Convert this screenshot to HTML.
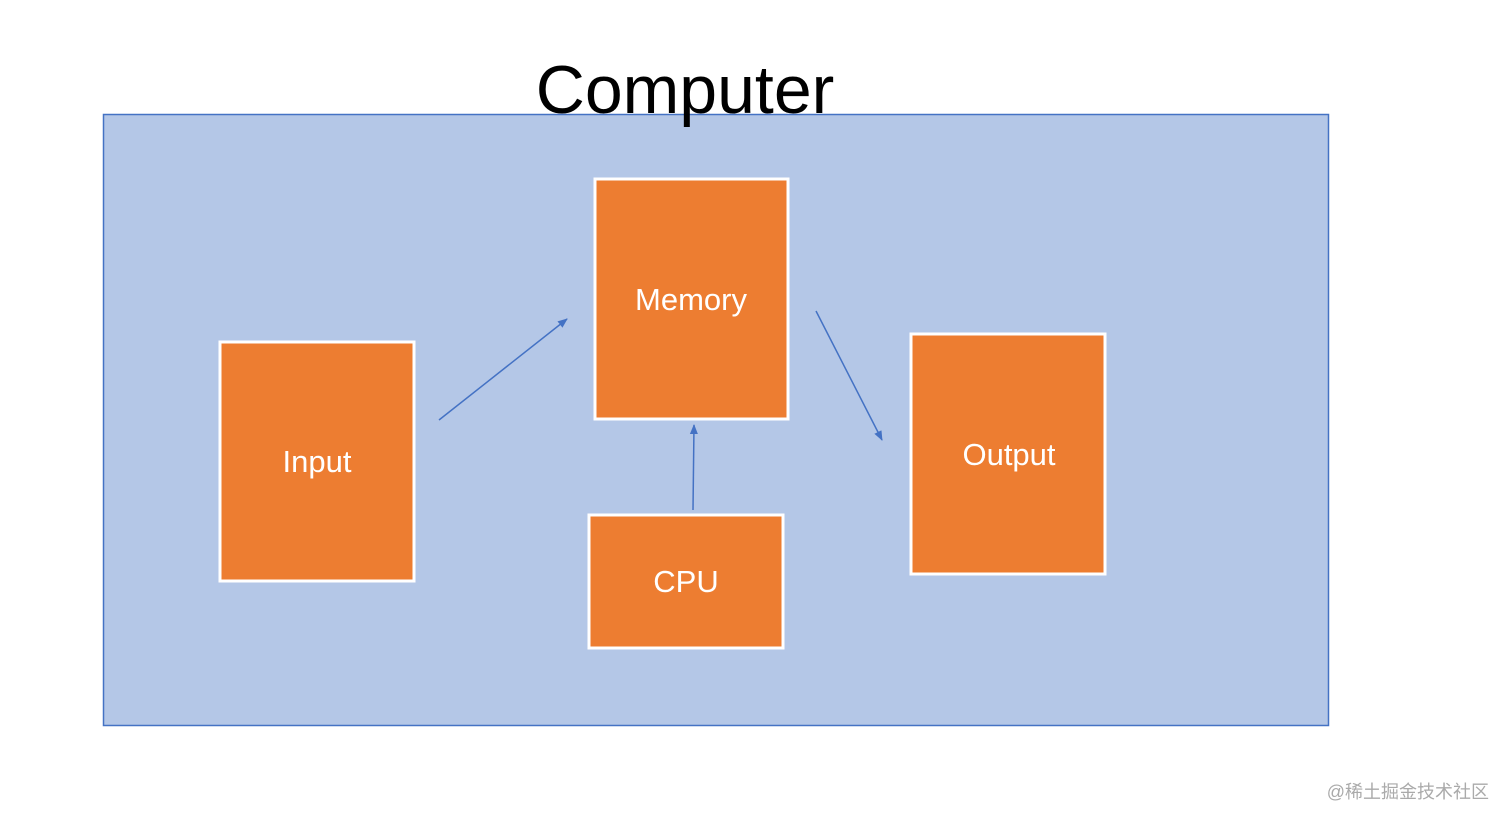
<!DOCTYPE html>
<html><head><meta charset="utf-8"><style>html,body{margin:0;padding:0;background:#fff;width:1512px;height:824px;overflow:hidden}</style></head>
<body>
<svg width="1512" height="824" viewBox="0 0 1512 824" xmlns="http://www.w3.org/2000/svg">
<defs><marker id="a" markerWidth="10" markerHeight="10" refX="9" refY="5" orient="auto" markerUnits="userSpaceOnUse"><path d="M0,1 L10,5 L0,9 Z" fill="#4472c4"/></marker></defs>
<rect x="103.5" y="114.5" width="1225" height="611" fill="#b4c7e7" stroke="#4472c4" stroke-width="1.5"/>
<text x="685" y="113" font-family="Liberation Sans, sans-serif" font-size="68" text-anchor="middle" fill="#000">Computer</text>
<g fill="#ed7d31" stroke="#fff" stroke-width="3">
<rect x="220" y="342" width="194" height="239"/>
<rect x="595" y="179" width="193" height="240"/>
<rect x="911" y="334" width="194" height="240"/>
<rect x="589" y="515" width="194" height="133"/>
</g>
<g font-family="Liberation Sans, sans-serif" font-size="31" fill="#fff" text-anchor="middle">
<text x="317" y="472">Input</text>
<text x="691" y="310">Memory</text>
<text x="1009" y="465">Output</text>
<text x="686" y="592">CPU</text>
</g>
<g stroke="#4472c4" stroke-width="1.5" marker-end="url(#a)">
<line x1="439" y1="420" x2="567" y2="319"/>
<line x1="693" y1="510" x2="694" y2="425"/>
<line x1="816" y1="311" x2="882" y2="440"/>
</g>
<text x="1489" y="798" font-family="Liberation Sans, 'Noto Sans CJK SC', sans-serif" font-size="18" fill="#aaa" text-anchor="end">@稀土掘金技术社区</text>
</svg>
</body></html>
